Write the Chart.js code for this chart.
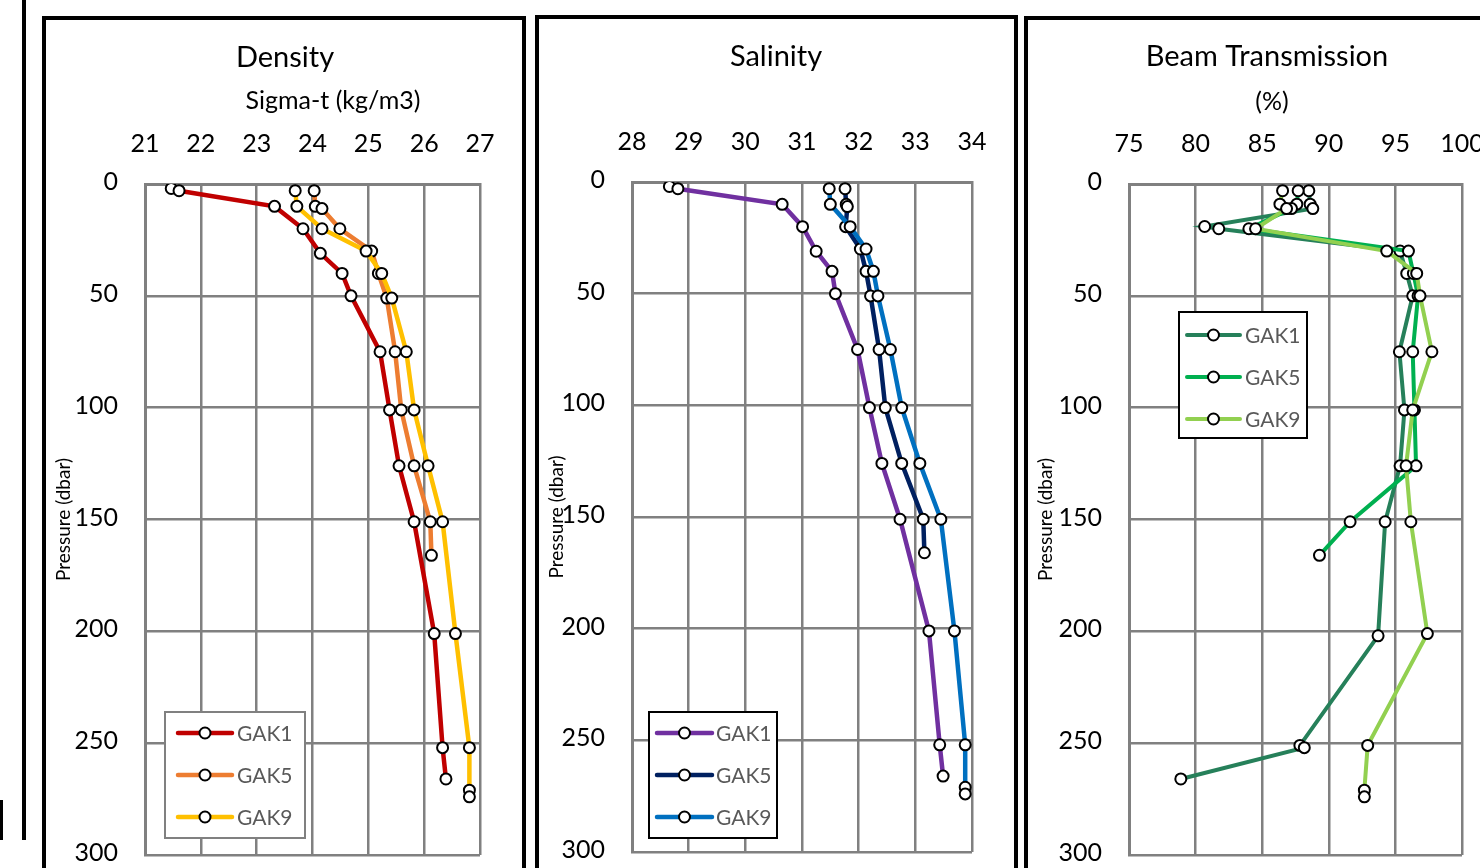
<!DOCTYPE html>
<html><head><meta charset="utf-8">
<script src="https://cdn.jsdelivr.net/npm/chart.js@4/dist/chart.umd.min.js"></script>
<style>
html,body{margin:0;padding:0;background:#fff;width:1480px;height:868px;overflow:hidden;position:relative;}
.panel{position:absolute;border:4px solid #000;background:#fff;box-sizing:border-box;overflow:hidden;}
.panel canvas{position:absolute;left:0;top:0;}
.edge{position:absolute;background:#000;}
</style></head><body>
<div class="edge" style="left:22px;top:0;width:4px;height:840px"></div>
<div class="edge" style="left:0;top:800px;width:3px;height:40px"></div>
<div class="panel" style="left:42px;top:16px;width:484px;height:900px"><canvas id="c1" width="476" height="848"></canvas></div>
<div class="panel" style="left:535px;top:15px;width:483px;height:900px"><canvas id="c2" width="475" height="849"></canvas></div>
<div class="panel" style="left:1024px;top:16px;width:500px;height:900px"><canvas id="c3" width="492" height="848"></canvas></div>
<script>
// ---------- Data ----------
const stations = ['GAK1', 'GAK5', 'GAK9'];

// Pressure (dbar) of samples used for density & salinity
const pGAK1 = [2, 3, 10, 20, 31, 40, 50, 75, 101, 126, 151, 201, 252, 266];
const pGAK5 = [3, 10, 11, 20, 30, 40, 51, 75, 101, 126, 151, 166];
const pGAK9 = [3, 10, 20, 30, 40, 51, 75, 101, 126, 151, 201, 252, 271, 274];

// Density, sigma-t (kg/m3)
const densGAK1 = [21.47, 21.61, 23.32, 23.83, 24.14, 24.53, 24.69, 25.21, 25.38, 25.55, 25.82, 26.18, 26.33, 26.39];
const densGAK5 = [24.03, 24.05, 24.17, 24.49, 25.06, 25.18, 25.33, 25.48, 25.59, 25.82, 26.11, 26.13];
const densGAK9 = [23.69, 23.72, 24.17, 24.96, 25.24, 25.42, 25.68, 25.82, 26.07, 26.33, 26.56, 26.81, 26.81, 26.81];

// Salinity
const salGAK1 = [28.66, 28.81, 30.65, 31.01, 31.25, 31.53, 31.59, 31.98, 32.19, 32.41, 32.73, 33.24, 33.43, 33.49];
const salGAK5 = [31.76, 31.78, 31.80, 31.77, 32.03, 32.13, 32.21, 32.36, 32.47, 32.76, 33.14, 33.16];
const salGAK9 = [31.48, 31.50, 31.85, 32.13, 32.26, 32.34, 32.56, 32.76, 33.08, 33.45, 33.69, 33.88, 33.88, 33.88];

// Beam transmission (%)
const pBeamGAK1 = [3, 9, 11, 19, 20, 30, 40, 50, 75, 101, 126, 151, 202, 251, 252, 266];
const beamGAK1 = [88.5, 88.6, 88.8, 80.68, 81.74, 95.35, 95.85, 96.3, 95.3, 95.68, 95.35, 94.23, 93.7, 87.83, 88.16, 78.89];
const pBeamGAK5 = [3, 9, 11, 20, 30, 40, 50, 75, 101, 126, 151, 166];
const beamGAK5 = [87.7, 87.6, 87.2, 84.0, 95.98, 96.35, 96.7, 96.3, 96.43, 96.55, 91.6, 89.3];
const pBeamGAK9 = [3, 9, 11, 20, 30, 40, 50, 75, 101, 126, 151, 201, 251, 271, 274];
const beamGAK9 = [86.53, 86.33, 86.83, 84.5, 94.35, 96.6, 96.85, 97.74, 96.3, 95.8, 96.16, 97.4, 92.92, 92.67, 92.67];

// Axis settings
const densTicks = [21, 27, 1];
const salTicks = [28, 34, 1];
const beamTicks = [75, 100, 5];
const pressTicks = [0, 300, 50];

// ---------- Helpers ----------
const FONT = 'Lato, "Open Sans", sans-serif';
Chart.defaults.font.family = FONT;

function zip(xs, ps) { return xs.map((v, i) => ({x: v, y: ps[i]})); }

function ds(label, xs, ps, color, width, order) {
  return {label, data: zip(xs, ps), showLine: true, borderColor: color, backgroundColor: '#fff',
    borderWidth: width, pointRadius: 5.5, pointHoverRadius: 5.5, pointBorderColor: '#000',
    pointBackgroundColor: '#fff', pointBorderWidth: 2, order};
}

const legendBox = {
  id: 'legendBox',
  afterDatasetsDraw(chart, args, o) {
    const ctx = chart.ctx;
    ctx.save();
    ctx.fillStyle = '#fff'; ctx.strokeStyle = o.border; ctx.lineWidth = 2;
    ctx.fillRect(o.x, o.y, o.w, o.h); ctx.strokeRect(o.x, o.y, o.w, o.h);
    chart.data.datasets.forEach((d, i) => {
      const cy = o.y + o.first + i * o.gap;
      ctx.strokeStyle = d.borderColor; ctx.lineWidth = d.borderWidth; ctx.lineCap = 'round';
      ctx.beginPath(); ctx.moveTo(o.lx, cy); ctx.lineTo(o.lx + o.lw, cy); ctx.stroke();
      ctx.beginPath(); ctx.arc(o.lx + o.lw / 2, cy, 5.5, 0, 2 * Math.PI);
      ctx.fillStyle = '#fff'; ctx.fill(); ctx.lineWidth = 2; ctx.strokeStyle = '#000'; ctx.stroke();
      ctx.fillStyle = '#595959'; ctx.font = '21px ' + FONT; ctx.textAlign = 'left'; ctx.textBaseline = 'middle';
      ctx.fillText(d.label, o.tx, cy + 1);
    });
    ctx.restore();
  }
};

const panelText = {
  id: 'panelText',
  afterDraw(chart, args, o) {
    const ctx = chart.ctx;
    ctx.save();
    o.items.forEach(t => {
      ctx.font = t.size + 'px ' + FONT; ctx.fillStyle = '#000';
      ctx.textAlign = 'center'; ctx.textBaseline = 'middle';
      ctx.fillText(t.text, t.x, t.y);
    });
    ctx.restore();
  }
};

function makeChart(id, datasets, xt, area, legend, texts) {
  const grid = {color: '#808080', lineWidth: 2.5, drawTicks: false};
  const border = {color: '#808080', width: 3};
  new Chart(document.getElementById(id), {
    type: 'scatter',
    data: {datasets},
    options: {
      responsive: false, animation: false, devicePixelRatio: 1,
      layout: {autoPadding: false, padding: {left: 0, top: 0, right: area.right, bottom: area.bottom}},
      scales: {
        x: {type: 'linear', position: 'top', min: xt[0], max: xt[1],
          ticks: {stepSize: xt[2], font: {size: 25}, color: '#000', padding: 25},
          grid, border,
          afterFit: s => { s.height = area.top; s.paddingLeft = 0; s.paddingRight = 0; }},
        y: {type: 'linear', reverse: true, min: pressTicks[0], max: pressTicks[1],
          ticks: {stepSize: pressTicks[2], font: {size: 25}, color: '#000', padding: 27, labelOffset: -2},
          grid, border,
          title: {display: true, text: 'Pressure (dbar)', font: {size: 19}, color: '#000', padding: {top: 6, bottom: 0}},
          afterFit: s => { s.width = area.left; s.paddingTop = 0; s.paddingBottom = 0; }}
      },
      plugins: {legend: {display: false}, tooltip: {enabled: false},
        legendBox: legend, panelText: {items: texts}}
    },
    plugins: [legendBox, panelText]
  });
}

// Density
makeChart('c1', [
  ds(stations[0], densGAK1, pGAK1, '#C00000', 4.5, 2),
  ds(stations[1], densGAK5, pGAK5, '#ED7D31', 4.5, 1),
  ds(stations[2], densGAK9, pGAK9, '#FFC000', 4.5, 0)
], densTicks, {left: 99, top: 164, right: 42, bottom: 13},
{x: 119, y: 692, w: 140, h: 126, first: 21, gap: 42, lx: 132, lw: 54, tx: 191, border: '#808080'},
[{text: 'Density', x: 239, y: 38, size: 29}, {text: 'Sigma-t (kg/m3)', x: 287, y: 81, size: 25}]);

// Salinity
makeChart('c2', [
  ds(stations[0], salGAK1, pGAK1, '#7030A0', 4.5, 2),
  ds(stations[1], salGAK5, pGAK5, '#002060', 4.5, 1),
  ds(stations[2], salGAK9, pGAK9, '#0070C0', 4.5, 0)
], salTicks, {left: 93, top: 163, right: 42, bottom: 16},
{x: 110, y: 693, w: 128, h: 126, first: 21, gap: 42, lx: 118, lw: 55, tx: 177, border: '#000'},
[{text: 'Salinity', x: 237, y: 38, size: 29}]);

// Beam transmission
makeChart('c3', [
  ds(stations[0], beamGAK1, pBeamGAK1, '#26805A', 4, 2),
  ds(stations[1], beamGAK5, pBeamGAK5, '#00B050', 4, 1),
  ds(stations[2], beamGAK9, pBeamGAK9, '#92D050', 4, 0)
], beamTicks, {left: 101, top: 164, right: 58, bottom: 13},
{x: 151, y: 292, w: 128, h: 126, first: 23, gap: 42, lx: 159, lw: 53, tx: 217, border: '#000'},
[{text: 'Beam Transmission', x: 239, y: 37, size: 29}, {text: '(%)', x: 244, y: 82, size: 25}]);
</script>
</body></html>
